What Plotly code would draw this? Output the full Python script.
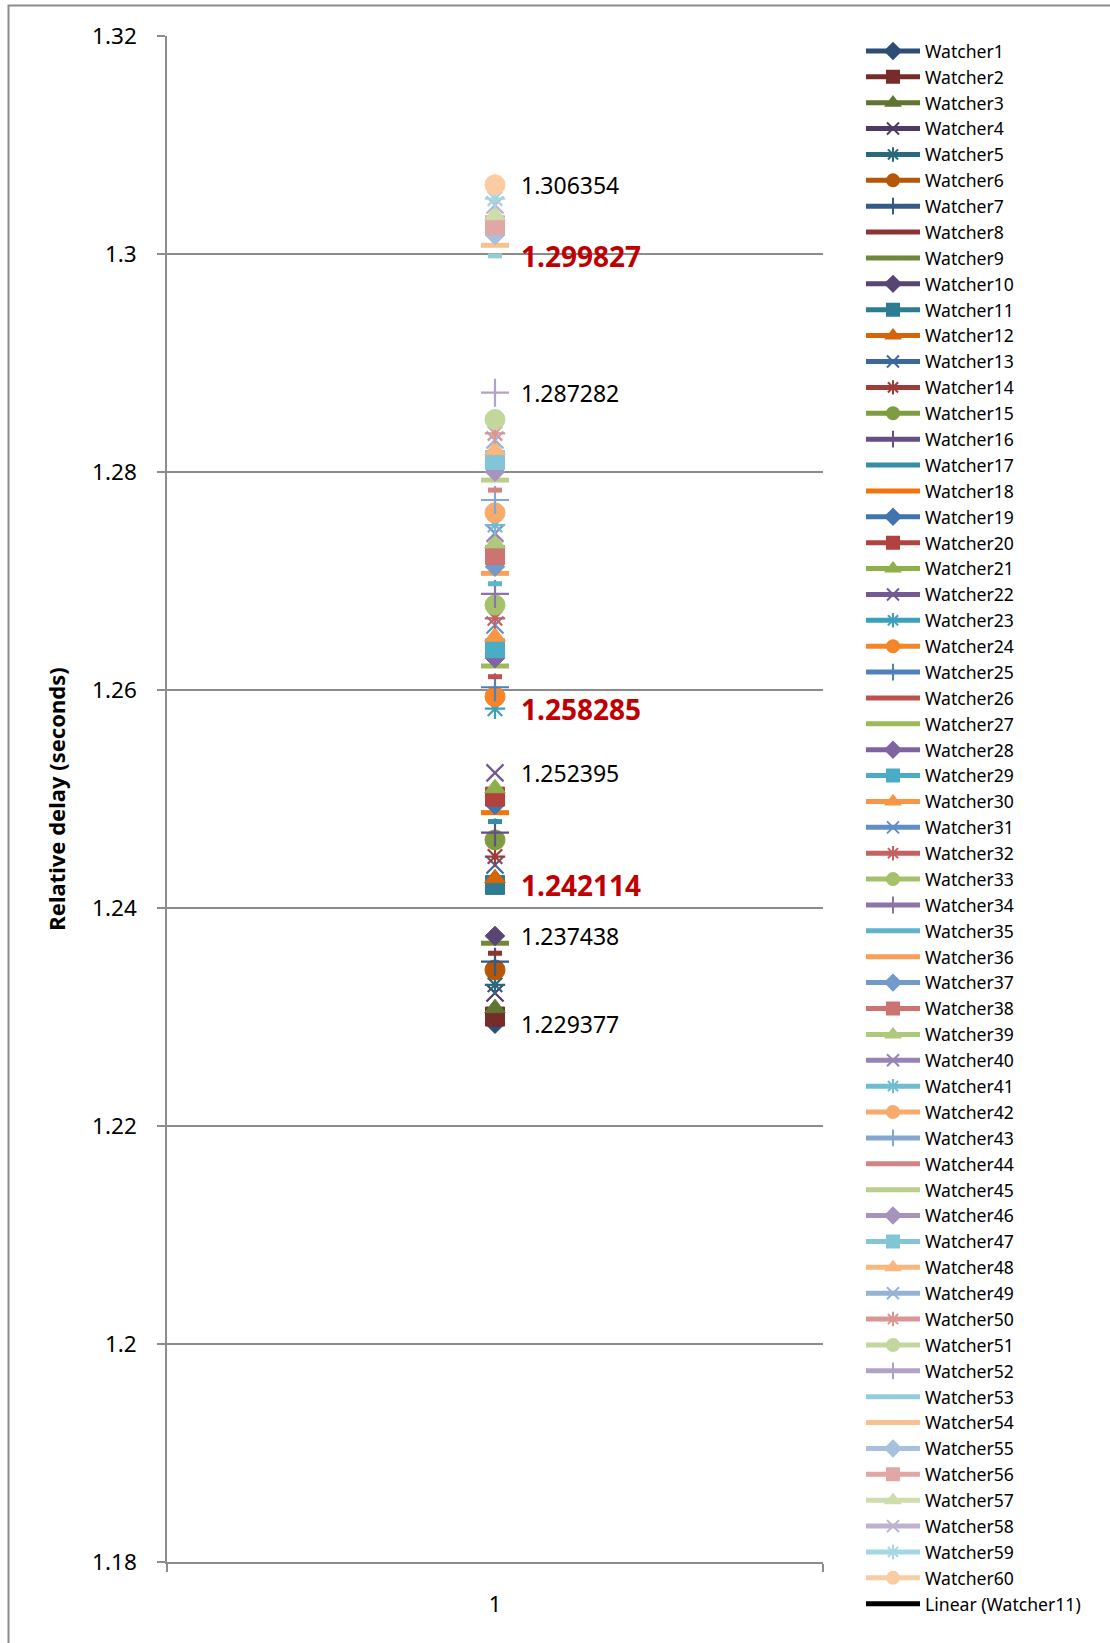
import colorsys
import plotly.graph_objects as go

# ---- data -------------------------------------------------------------
watchers = [f"Watcher{i}" for i in range(1, 61)]
delays = [
    1.229377, 1.23004, 1.23081, 1.23220, 1.23295, 1.23432, 1.23508, 1.23585, 1.23677, 1.237438,
    1.242114, 1.24273, 1.24395, 1.24472, 1.24625, 1.24692, 1.24793, 1.24875, 1.24946, 1.25022,
    1.25099, 1.252395, 1.258285, 1.25939, 1.26025, 1.26122, 1.26220, 1.26291, 1.26383, 1.26489,
    1.26596, 1.26658, 1.26780, 1.26881, 1.26975, 1.27070, 1.27131, 1.27238, 1.27345, 1.27437,
    1.27513, 1.27626, 1.27743, 1.27834, 1.27926, 1.28002, 1.28110, 1.28201, 1.28293, 1.28354,
    1.28482, 1.287282, 1.299827, 1.30080, 1.30172, 1.30264, 1.30356, 1.30449, 1.30508, 1.306354,
]
category = [1]
labeled_plain = ["Watcher1", "Watcher10", "Watcher22", "Watcher52", "Watcher60"]
labeled_highlight = ["Watcher11", "Watcher23", "Watcher53"]
trend_series = "Watcher11"
y_tick_vals = [1.18, 1.20, 1.22, 1.24, 1.26, 1.28, 1.30, 1.32]
y_tick_text = ["1.18", "1.2", "1.22", "1.24", "1.26", "1.28", "1.3", "1.32"]

# ---- styling ----------------------------------------------------------
ACCENTS = ["#4F81BD", "#C0504D", "#9BBB59", "#8064A2", "#4BACC6", "#F79646"]
FONT = "Noto Sans"


def vary(hex_color, p):
    """Darken (p<0) or lighten (p>0) a colour on its HLS lightness."""
    r, g, b = (int(hex_color[i:i + 2], 16) / 255 for i in (1, 3, 5))
    h, l, s = colorsys.rgb_to_hls(r, g, b)
    l = l * (1 + p) if p < 0 else l + (1 - l) * p
    r, g, b = colorsys.hls_to_rgb(h, l, s)
    return "#%02X%02X%02X" % tuple(round(c * 255) for c in (r, g, b))


# marker cycle: (symbol, size, outline width)
MARKERS = [
    ("diamond", 15, 1),
    ("square", 19, 1),
    ("triangle-up", 18, 1),
    ("x-thin", 17, 2.2),
    ("asterisk", 17, 2.2),
    ("circle", 20, 1),
    ("cross-thin", 20, 2.2),
    ("line-ew", 10, 5),
    ("line-ew", 20, 5),
]

fig = go.Figure()

for i, (name, val) in enumerate(zip(watchers, delays)):
    color = vary(ACCENTS[i % 6], -0.4 + 0.1 * (i // 6))
    sym, size, lw = MARKERS[i % 9]
    fig.add_trace(go.Scatter(
        x=category, y=[val], name=name, mode="lines+markers",
        line=dict(color=color, width=4),
        marker=dict(symbol=sym, size=size, color=color,
                    line=dict(color=color, width=lw)),
    ))

# linear trendline entry for Watcher11
ti = watchers.index(trend_series)
fig.add_trace(go.Scatter(
    x=category, y=[delays[ti]], name=f"Linear ({trend_series})", mode="lines",
    line=dict(color="black", width=1.2),
))

# data labels
for name in labeled_plain + labeled_highlight:
    v = delays[watchers.index(name)]
    hl = name in labeled_highlight
    fig.add_annotation(
        x=category[0], y=v, text=f"<b>{v:.6f}</b>" if hl else f"{v:.6f}",
        showarrow=False, xanchor="left", yanchor="middle", xshift=24,
        font=dict(family=FONT, size=28 if hl else 23,
                  color="#C00000" if hl else "#000000"),
    )

L, R, T, B = 167, 287, 36, 81
W, H = 1110, 1643
pw, ph = W - L - R, H - T - B

# chart-area frame
fig.add_shape(type="rect", xref="paper", yref="paper",
              x0=(8.5 - L) / pw, x1=(W + 20 - L) / pw,
              y0=-(B + 20) / ph, y1=(H - B - 5.5) / ph,
              line=dict(color="#8C8C8C", width=2), fillcolor="rgba(0,0,0,0)",
              layer="below")

fig.update_layout(
    width=W, height=H,
    margin=dict(l=L, r=R, t=T, b=B),
    paper_bgcolor="white", plot_bgcolor="white",
    font=dict(family=FONT, color="black"),
    showlegend=True,
    legend=dict(
        x=(861 - L) / pw, y=(H - B - 33) / ph, xanchor="left", yanchor="top",
        font=dict(family=FONT, size=17.6), itemsizing="constant", itemwidth=54,
        bgcolor="rgba(0,0,0,0)", maxheight=1620,
    ),
    xaxis=dict(
        range=[0.5, 1.5], tickvals=category, ticktext=[str(c) for c in category],
        ticks="", showgrid=False, zeroline=False,
        showline=True, linecolor="#8C8C8C", linewidth=1.5,
        tickfont=dict(family=FONT, size=22), ticklabelstandoff=22,
        minor=dict(tickvals=[0.5, 1.5], ticks="outside", ticklen=8,
                   tickcolor="#8C8C8C", tickwidth=1.5),
    ),
    yaxis=dict(
        range=[1.18, 1.32], tickvals=y_tick_vals, ticktext=y_tick_text,
        ticks="outside", ticklen=8, tickcolor="#8C8C8C", tickwidth=1.5,
        showgrid=True, gridcolor="#8C8C8C", gridwidth=1.5, zeroline=False,
        showline=True, linecolor="#8C8C8C", linewidth=1.5,
        tickfont=dict(family=FONT, size=22.5), ticklabelstandoff=16,
        title=dict(text="<b>Relative delay (seconds)</b>",
                   font=dict(family=FONT, size=22), standoff=20),
    ),
)

fig.write_html("out.html")
